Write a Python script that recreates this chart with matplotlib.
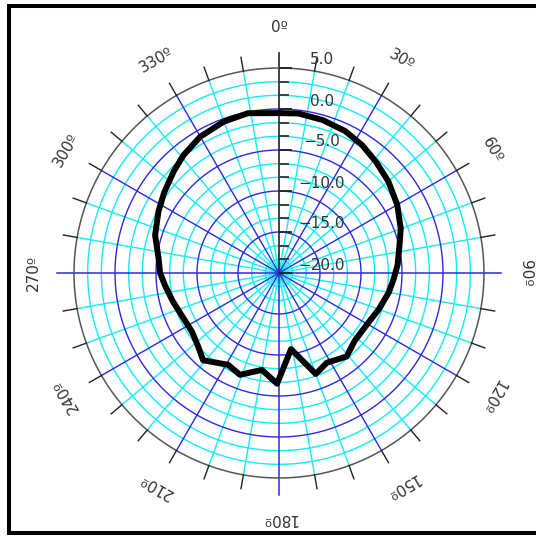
import numpy as np
import matplotlib
matplotlib.use("Agg")
import matplotlib.pyplot as plt
from matplotlib.path import Path
from matplotlib.lines import Line2D

# ---- data ----
angles_deg = [0, 7, 16, 25, 33, 41, 50, 60, 70, 78, 86, 93, 100, 110, 118, 132,
              141, 152, 160, 171, 181, 190, 201, 209, 221, 228, 236, 245, 255,
              264, 270, 277, 287, 297, 305, 314, 321, 330, 340, 349, 360]
gain_db = [-0.5, -0.4, -0.6, -0.9, -1.4, -2.0, -2.6, -3.35, -4.2, -5.0, -5.5, -6.0,
           -6.4, -7.05, -7.5, -7.6, -6.9, -7.6, -6.9, -10.6, -6.5, -8.0, -6.7, -7.2,
           -5.9, -6.7, -7.2, -7.1, -6.6, -6.0, -5.5, -5.2, -4.2, -3.5, -2.9, -2.15,
           -1.5, -0.8, -0.35, -0.15, -0.5]
r_levels = [5.0, 0.0, -5.0, -10.0, -15.0, -20.0]
r_labels = ["5.0", "0.0", "\u22125.0", "\u221210.0", "\u221215.0", "\u221220.0"]
angle_ticks = list(range(0, 360, 30))
angle_labels = [f"{a}\u00ba" for a in angle_ticks]

RMIN, RMAX = -20.0, 5.0
PX_PER_DB = 8.2

fig = plt.figure(figsize=(5.36, 5.36), dpi=100)
fig.patch.set_facecolor("white")
cx, cy, R = 279 / 536, (536 - 273) / 536, 205 / 536
ax = fig.add_axes([cx - R, cy - R, 2 * R, 2 * R], projection="polar")
ax.set_theta_zero_location("N")
ax.set_theta_direction(-1)
ax.set_ylim(RMIN, RMAX)
ax.axis("off")

CYAN = "#10ecf8"
BLUE = "#2a2ae0"
TEXT = "#333333"
th = np.linspace(0, 2 * np.pi, 721)

# minor (cyan) circles every 5/3 dB
minor_step = 5.0 / 3.0
for k in range(1, 15):
    if k % 3 == 0:
        continue
    r = RMIN + k * minor_step
    ax.plot(th, np.full_like(th, r), color=CYAN, lw=1.0, zorder=1, clip_on=False)

# cyan spokes every 10 deg
for a in range(0, 360, 10):
    if a % 30 == 0:
        continue
    t = np.deg2rad(a)
    ax.plot([t, t], [RMIN, RMAX], color=CYAN, lw=1.0, zorder=1, clip_on=False)

# major (blue) circles
for r in [-15.0, -10.0, -5.0, 0.0]:
    ax.plot(th, np.full_like(th, r), color=BLUE, lw=1.0, zorder=2, clip_on=False)

# blue spokes every 30 deg
for a in range(30, 360, 30):
    if a % 90 == 0:
        continue
    t = np.deg2rad(a)
    ax.plot([t, t], [RMIN, RMAX], color=BLUE, lw=1.0, zorder=2, clip_on=False)

# main axes lines
ext = RMAX + 17 / PX_PER_DB
for a in (90, 180, 270):
    t = np.deg2rad(a)
    ax.plot([t, t], [RMIN, ext], color=BLUE, lw=1.1, zorder=2, clip_on=False)
ax.plot([0, 0], [RMIN, RMAX + 15 / PX_PER_DB], color="#333333", lw=1.3, zorder=3,
        clip_on=False)

# outer circle
ax.plot(th, np.full_like(th, RMAX), color="#555555", lw=1.1, zorder=3, clip_on=False)

# outer ticks every 10 deg
for a in range(0, 360, 10):
    if a % 90 == 0:
        continue
    t = np.deg2rad(a)
    ax.plot([t, t], [RMAX, RMAX + 14 / PX_PER_DB], color="#222222", lw=1.0,
            zorder=3, clip_on=False)

# radial axis ticks (short horizontal marks to the right of the 0 deg axis)
tick_path = Path([(0, 0), (1, 0)], [Path.MOVETO, Path.LINETO])
minor_r = [RMIN + k * minor_step for k in range(16) if k % 3 != 0]
major_r = [RMIN + k * minor_step for k in range(16) if k % 3 == 0]
ax.plot(np.zeros(len(minor_r)), minor_r, linestyle="none", marker=tick_path,
        markersize=14.4, mec="#333333", mew=1.3, zorder=4, clip_on=False)
ax.plot(np.zeros(len(major_r)), major_r, linestyle="none", marker=tick_path,
        markersize=18.0, mec="#222222", mew=1.3, zorder=4, clip_on=False)

# data curve
ax.plot(np.deg2rad(angles_deg), gain_db, color="black", lw=4.3,
        solid_joinstyle="round", solid_capstyle="round", zorder=6, clip_on=False)

# radial labels
for r, lab in zip(r_levels, r_labels):
    ax.annotate(lab, xy=(0, r), xytext=(43 * 0.72, 8 * 0.72), textcoords="offset points",
                ha="center", va="center", fontsize=11, color=TEXT, zorder=7,
                annotation_clip=False)

# angle labels
r_lab = RMIN + 246 / PX_PER_DB
for a, lab in zip(angle_ticks, angle_labels):
    ax.text(np.deg2rad(a), r_lab, lab, rotation=-a, rotation_mode="anchor",
            ha="center", va="center", fontsize=11, color=TEXT, zorder=7)

# frame (left, top, bottom)
lx = 8.5 / 536
ty = 1 - 6 / 536
by = 1 - 533 / 536
fig.add_artist(Line2D([1.2, lx, lx, 1.2], [ty, ty, by, by], color="black",
                      lw=2.9, transform=fig.transFigure, solid_joinstyle="miter"))

fig.savefig("out.png", dpi=100, facecolor="white")
